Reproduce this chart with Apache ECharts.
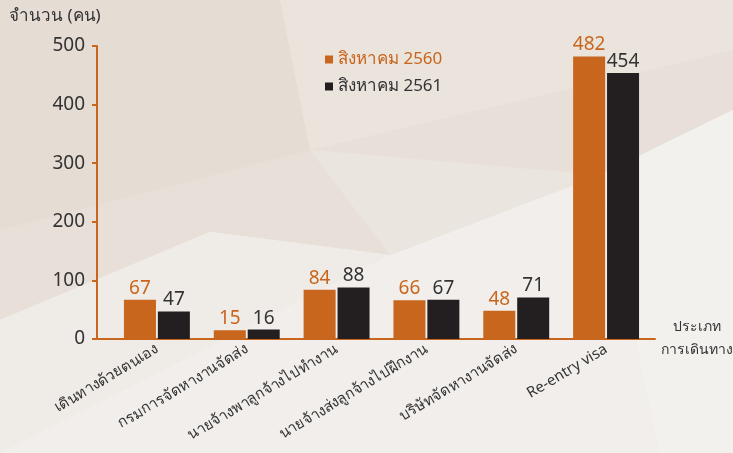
<!DOCTYPE html>
<html style="height: 100%">
<head>
    <meta charset="UTF-8">
    <script type="text/javascript" src="https://cdn.jsdelivr.net/npm/echarts@6/dist/echarts.min.js"></script>
</head>
<body style="height: 100%; margin: 0">
    <div id="container" style="width: 733px; height: 453px;"></div>
    <script type="text/javascript">
        var categories = ['เดินทางด้วยตนเอง', 'กรมการจัดหางานจัดส่ง', 'นายจ้างพาลูกจ้างไปทำงาน',
            'นายจ้างส่งลูกจ้างไปฝึกงาน', 'บริษัทจัดหางานจัดส่ง', 'Re-entry visa'];
        var seriesNames = ['สิงหาคม 2560', 'สิงหาคม 2561'];
        var data2560 = [67, 15, 84, 66, 48, 482];
        var data2561 = [47, 16, 88, 67, 71, 454];
        var yTicks = [0, 100, 200, 300, 400, 500];

        var ORANGE = '#c8661d';
        var DARK = '#231f20';
        var FONT = '"Noto Sans", "DejaVu Sans", sans-serif';

        var myChart = echarts.init(document.getElementById('container'));

        var option = {
            backgroundColor: '#f1eeeb',
            textStyle: { fontFamily: FONT },
            graphic: [
                // faceted beige background, kept soft
                { type: 'polygon', z: -100, silent: true,
                  shape: { points: [[0, 0], [733, 0], [733, 110], [600, 175], [390, 255], [210, 232], [0, 320]] },
                  style: { fill: '#e8e0d8' } },
                { type: 'polygon', z: -99, silent: true,
                  shape: { points: [[0, 0], [280, 0], [310, 150], [0, 230]] },
                  style: { fill: '#e5dcd3' } },
                { type: 'polygon', z: -99, silent: true,
                  shape: { points: [[280, 0], [733, 0], [733, 50], [310, 150]] },
                  style: { fill: '#ebe4dd' } },
                { type: 'polygon', z: -99, silent: true,
                  shape: { points: [[310, 150], [600, 175], [390, 255]] },
                  style: { fill: '#ebe5df' } },
                { type: 'polygon', z: -99, silent: true,
                  shape: { points: [[0, 320], [210, 232], [390, 255], [0, 453]] },
                  style: { fill: '#efebe7' } },
                { type: 'polygon', z: -99, silent: true,
                  shape: { points: [[600, 175], [733, 110], [733, 453], [660, 453]] },
                  style: { fill: '#f3f1ee' } },
                // x axis name
                { type: 'text', x: 697, y: 316, silent: true,
                  style: { text: 'ประเภท\nการเดินทาง', fill: '#333', fontSize: 14,
                           lineHeight: 23, fontFamily: FONT, align: 'center', textAlign: 'center' } }
            ],
            title: {
                text: 'จำนวน (คน)',
                left: 4,
                top: 3,
                textStyle: { fontSize: 17, fontWeight: 'normal', color: '#333', fontFamily: FONT }
            },
            legend: {
                orient: 'vertical',
                left: 320,
                top: 46,
                itemWidth: 8,
                itemHeight: 8,
                itemGap: 10,
                icon: 'rect',
                textStyle: { fontSize: 17, color: '#333', fontFamily: FONT },
                data: [
                    { name: seriesNames[0], textStyle: { color: ORANGE } },
                    { name: seriesNames[1], textStyle: { color: '#333' } }
                ]
            },
            grid: [
                { left: 97, right: 78, top: 46, bottom: 114, outerBoundsMode: 'none', containLabel: false },
                { left: 112, width: 539, top: 46, bottom: 114, outerBoundsMode: 'none', containLabel: false }
            ],
            xAxis: [
                {
                    gridIndex: 0,
                    type: 'category',
                    data: [''],
                    axisLine: { lineStyle: { color: ORANGE, width: 2 } },
                    axisTick: { show: false },
                    axisLabel: { show: false }
                },
                {
                    gridIndex: 1,
                    type: 'category',
                    data: categories,
                    axisLine: { show: false },
                    axisTick: { show: false },
                    axisLabel: { rotate: 31, fontSize: 15, color: '#333', margin: 9, interval: 0, fontFamily: FONT }
                }
            ],
            yAxis: [
                {
                    gridIndex: 0,
                    type: 'value',
                    min: yTicks[0],
                    max: yTicks[yTicks.length - 1],
                    interval: 100,
                    splitLine: { show: false },
                    axisLine: { show: true, lineStyle: { color: ORANGE, width: 2 } },
                    axisTick: { show: true, length: 5, lineStyle: { color: ORANGE, width: 2 } },
                    axisLabel: { fontSize: 19, color: '#333', margin: 12, fontFamily: FONT }
                },
                {
                    gridIndex: 1,
                    type: 'value',
                    min: yTicks[0],
                    max: yTicks[yTicks.length - 1],
                    show: false,
                    splitLine: { show: false }
                }
            ],
            series: [
                {
                    name: seriesNames[0],
                    type: 'bar',
                    xAxisIndex: 1,
                    yAxisIndex: 1,
                    data: data2560,
                    barWidth: 32,
                    barGap: '6%',
                    itemStyle: { color: ORANGE },
                    label: { show: true, position: 'top', distance: 2, fontSize: 19, color: ORANGE, fontFamily: FONT }
                },
                {
                    name: seriesNames[1],
                    type: 'bar',
                    xAxisIndex: 1,
                    yAxisIndex: 1,
                    data: data2561,
                    barWidth: 32,
                    itemStyle: { color: DARK },
                    label: { show: true, position: 'top', distance: 2, fontSize: 19, color: '#333', fontFamily: FONT }
                }
            ]
        };

        myChart.setOption(option);
        window.onresize = function () {
            myChart.resize();
        };
    </script>
</body>
</html>
